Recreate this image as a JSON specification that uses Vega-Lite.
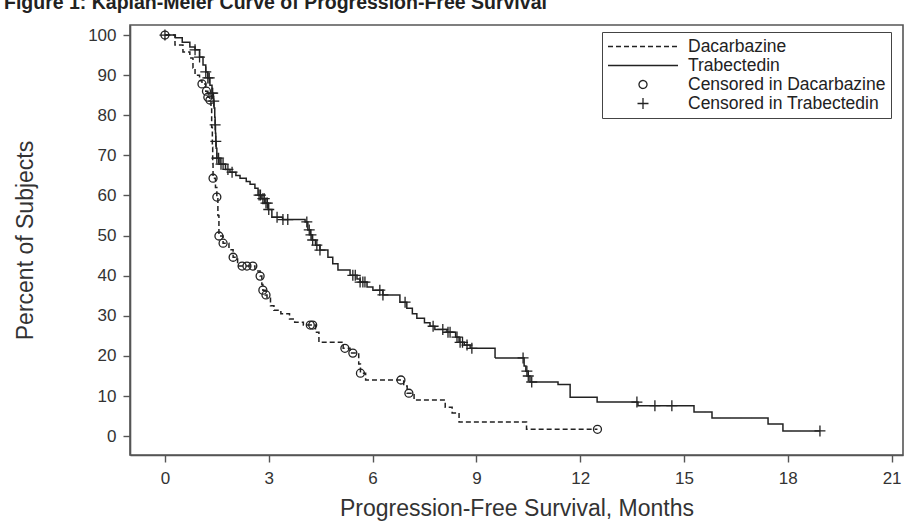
{
  "$schema": "https://vega.github.io/schema/vega-lite/v6.json",
  "width": 773,
  "height": 430,
  "autosize": "none",
  "padding": {"left": 130, "top": 25, "right": 9, "bottom": 68},
  "background": "white",
  "config": {
    "font": "Liberation Sans",
    "view": {"stroke": "#555", "strokeWidth": 1.6},
    "axis": {"grid": false, "domainColor": "#555", "domainWidth": 1.6, "tickColor": "#555", "tickWidth": 1.4, "tickSize": 7, "labelFont": "Liberation Sans", "labelFontSize": 17, "labelColor": "#333", "titleFont": "Liberation Sans", "titleFontSize": 23, "titleFontWeight": "normal", "titleColor": "#333"}
  },
  "title": {"text": "Figure 1: Kaplan-Meier Curve of Progression-Free Survival", "anchor": "start", "frame": "group", "dx": -126, "offset": 12, "fontSize": 19.5, "fontWeight": "bold", "font": "Liberation Sans", "color": "#222"},
  "datasets": {
    "curves": [
      {"series": "Dacarbazine", "t": 0, "s": 100},
      {"series": "Dacarbazine", "t": 0.29, "s": 97.5},
      {"series": "Dacarbazine", "t": 0.52, "s": 95.8},
      {"series": "Dacarbazine", "t": 0.72, "s": 94.3},
      {"series": "Dacarbazine", "t": 0.81, "s": 91.8},
      {"series": "Dacarbazine", "t": 0.87, "s": 90},
      {"series": "Dacarbazine", "t": 1.0, "s": 88.6},
      {"series": "Dacarbazine", "t": 1.07, "s": 87.8},
      {"series": "Dacarbazine", "t": 1.18, "s": 86},
      {"series": "Dacarbazine", "t": 1.24, "s": 84.5},
      {"series": "Dacarbazine", "t": 1.3, "s": 83.8},
      {"series": "Dacarbazine", "t": 1.33, "s": 81.8},
      {"series": "Dacarbazine", "t": 1.35, "s": 77},
      {"series": "Dacarbazine", "t": 1.37, "s": 72},
      {"series": "Dacarbazine", "t": 1.38, "s": 68},
      {"series": "Dacarbazine", "t": 1.39, "s": 64.3},
      {"series": "Dacarbazine", "t": 1.46, "s": 62},
      {"series": "Dacarbazine", "t": 1.5, "s": 59.6},
      {"series": "Dacarbazine", "t": 1.53, "s": 55},
      {"series": "Dacarbazine", "t": 1.56, "s": 49.9},
      {"series": "Dacarbazine", "t": 1.68, "s": 48.1},
      {"series": "Dacarbazine", "t": 1.85, "s": 46.5},
      {"series": "Dacarbazine", "t": 1.97, "s": 44.6},
      {"series": "Dacarbazine", "t": 2.1, "s": 42.4},
      {"series": "Dacarbazine", "t": 2.6, "s": 41.2},
      {"series": "Dacarbazine", "t": 2.75, "s": 39.9},
      {"series": "Dacarbazine", "t": 2.8, "s": 37.8},
      {"series": "Dacarbazine", "t": 2.83, "s": 36.4},
      {"series": "Dacarbazine", "t": 2.9, "s": 35.2},
      {"series": "Dacarbazine", "t": 2.95, "s": 34.4},
      {"series": "Dacarbazine", "t": 3.05, "s": 32.5},
      {"series": "Dacarbazine", "t": 3.15, "s": 31.4},
      {"series": "Dacarbazine", "t": 3.35, "s": 30.5},
      {"series": "Dacarbazine", "t": 3.6, "s": 29.2},
      {"series": "Dacarbazine", "t": 3.75, "s": 28.4},
      {"series": "Dacarbazine", "t": 4.0, "s": 27.7},
      {"series": "Dacarbazine", "t": 4.35, "s": 25.9},
      {"series": "Dacarbazine", "t": 4.45, "s": 23.4},
      {"series": "Dacarbazine", "t": 5.15, "s": 21.9},
      {"series": "Dacarbazine", "t": 5.35, "s": 20.7},
      {"series": "Dacarbazine", "t": 5.6, "s": 18},
      {"series": "Dacarbazine", "t": 5.65, "s": 15.7},
      {"series": "Dacarbazine", "t": 5.8, "s": 14.0},
      {"series": "Dacarbazine", "t": 6.9, "s": 12.5},
      {"series": "Dacarbazine", "t": 7.0, "s": 10.7},
      {"series": "Dacarbazine", "t": 7.2, "s": 9.0},
      {"series": "Dacarbazine", "t": 8.1, "s": 7.2},
      {"series": "Dacarbazine", "t": 8.3, "s": 5.8},
      {"series": "Dacarbazine", "t": 8.5, "s": 3.5},
      {"series": "Dacarbazine", "t": 10.45, "s": 1.7},
      {"series": "Dacarbazine", "t": 12.5, "s": 1.7},
      {"series": "Trabectedin", "t": 0, "s": 100},
      {"series": "Trabectedin", "t": 0.3, "s": 99.3},
      {"series": "Trabectedin", "t": 0.5, "s": 98.2},
      {"series": "Trabectedin", "t": 0.72, "s": 97},
      {"series": "Trabectedin", "t": 0.87, "s": 96.3},
      {"series": "Trabectedin", "t": 1.0, "s": 94.5},
      {"series": "Trabectedin", "t": 1.1, "s": 92.5},
      {"series": "Trabectedin", "t": 1.18, "s": 90.8},
      {"series": "Trabectedin", "t": 1.24, "s": 89.3},
      {"series": "Trabectedin", "t": 1.3, "s": 87.5},
      {"series": "Trabectedin", "t": 1.36, "s": 85.5},
      {"series": "Trabectedin", "t": 1.4, "s": 83.5},
      {"series": "Trabectedin", "t": 1.42, "s": 81.8},
      {"series": "Trabectedin", "t": 1.44, "s": 79.5},
      {"series": "Trabectedin", "t": 1.45, "s": 77.6},
      {"series": "Trabectedin", "t": 1.46, "s": 75.5},
      {"series": "Trabectedin", "t": 1.47, "s": 73.5},
      {"series": "Trabectedin", "t": 1.48, "s": 71.8},
      {"series": "Trabectedin", "t": 1.5, "s": 69.3},
      {"series": "Trabectedin", "t": 1.59, "s": 67.8},
      {"series": "Trabectedin", "t": 1.75, "s": 66.5},
      {"series": "Trabectedin", "t": 1.88, "s": 65.8},
      {"series": "Trabectedin", "t": 2.05, "s": 65},
      {"series": "Trabectedin", "t": 2.17, "s": 64.3},
      {"series": "Trabectedin", "t": 2.35, "s": 63.5},
      {"series": "Trabectedin", "t": 2.46, "s": 62.8},
      {"series": "Trabectedin", "t": 2.6, "s": 61.8},
      {"series": "Trabectedin", "t": 2.69, "s": 60.1},
      {"series": "Trabectedin", "t": 2.78, "s": 59.2},
      {"series": "Trabectedin", "t": 2.89, "s": 58.1},
      {"series": "Trabectedin", "t": 2.98, "s": 56.5},
      {"series": "Trabectedin", "t": 3.09, "s": 54.6},
      {"series": "Trabectedin", "t": 3.4, "s": 54.0},
      {"series": "Trabectedin", "t": 4.05, "s": 53.4},
      {"series": "Trabectedin", "t": 4.13, "s": 51.4},
      {"series": "Trabectedin", "t": 4.2, "s": 50.2},
      {"series": "Trabectedin", "t": 4.25, "s": 48.9},
      {"series": "Trabectedin", "t": 4.35, "s": 47.6},
      {"series": "Trabectedin", "t": 4.48, "s": 46.4},
      {"series": "Trabectedin", "t": 4.71, "s": 44.6},
      {"series": "Trabectedin", "t": 4.85, "s": 43},
      {"series": "Trabectedin", "t": 5.0, "s": 41.4},
      {"series": "Trabectedin", "t": 5.35, "s": 40.1},
      {"series": "Trabectedin", "t": 5.55, "s": 39.2},
      {"series": "Trabectedin", "t": 5.64, "s": 38.4},
      {"series": "Trabectedin", "t": 5.84, "s": 37.2},
      {"series": "Trabectedin", "t": 6.01, "s": 36.4},
      {"series": "Trabectedin", "t": 6.3, "s": 35.2},
      {"series": "Trabectedin", "t": 6.79, "s": 33.4},
      {"series": "Trabectedin", "t": 6.99, "s": 31.9},
      {"series": "Trabectedin", "t": 7.15, "s": 30.5},
      {"series": "Trabectedin", "t": 7.28, "s": 29.4},
      {"series": "Trabectedin", "t": 7.5, "s": 28.3},
      {"series": "Trabectedin", "t": 7.66, "s": 27.4},
      {"series": "Trabectedin", "t": 7.8, "s": 26.6},
      {"series": "Trabectedin", "t": 8.15, "s": 25.9},
      {"series": "Trabectedin", "t": 8.4, "s": 24.7},
      {"series": "Trabectedin", "t": 8.5, "s": 23.4},
      {"series": "Trabectedin", "t": 8.65, "s": 22.7},
      {"series": "Trabectedin", "t": 8.82, "s": 21.9},
      {"series": "Trabectedin", "t": 9.54, "s": 19.5},
      {"series": "Trabectedin", "t": 10.38, "s": 17.5},
      {"series": "Trabectedin", "t": 10.43, "s": 16.2},
      {"series": "Trabectedin", "t": 10.5, "s": 15},
      {"series": "Trabectedin", "t": 10.55, "s": 13.5},
      {"series": "Trabectedin", "t": 11.36, "s": 12.9},
      {"series": "Trabectedin", "t": 11.71, "s": 9.7},
      {"series": "Trabectedin", "t": 12.49, "s": 8.5},
      {"series": "Trabectedin", "t": 13.67, "s": 7.6},
      {"series": "Trabectedin", "t": 15.29, "s": 6.0},
      {"series": "Trabectedin", "t": 15.81, "s": 4.5},
      {"series": "Trabectedin", "t": 17.43, "s": 3.0},
      {"series": "Trabectedin", "t": 17.86, "s": 1.3},
      {"series": "Trabectedin", "t": 18.93, "s": 1.3}
    ],
    "censored": [
      {"series": "Censored in Dacarbazine", "t": 0, "s": 100},
      {"series": "Censored in Dacarbazine", "t": 1.07, "s": 87.8},
      {"series": "Censored in Dacarbazine", "t": 1.2, "s": 86},
      {"series": "Censored in Dacarbazine", "t": 1.24, "s": 84.5},
      {"series": "Censored in Dacarbazine", "t": 1.3, "s": 83.8},
      {"series": "Censored in Dacarbazine", "t": 1.39, "s": 64.3},
      {"series": "Censored in Dacarbazine", "t": 1.5, "s": 59.6},
      {"series": "Censored in Dacarbazine", "t": 1.56, "s": 49.9},
      {"series": "Censored in Dacarbazine", "t": 1.68, "s": 48.1},
      {"series": "Censored in Dacarbazine", "t": 1.97, "s": 44.6},
      {"series": "Censored in Dacarbazine", "t": 2.23, "s": 42.4},
      {"series": "Censored in Dacarbazine", "t": 2.37, "s": 42.4},
      {"series": "Censored in Dacarbazine", "t": 2.54, "s": 42.4},
      {"series": "Censored in Dacarbazine", "t": 2.75, "s": 39.9},
      {"series": "Censored in Dacarbazine", "t": 2.83, "s": 36.4},
      {"series": "Censored in Dacarbazine", "t": 2.92, "s": 35.2},
      {"series": "Censored in Dacarbazine", "t": 4.2, "s": 27.7},
      {"series": "Censored in Dacarbazine", "t": 4.27, "s": 27.7},
      {"series": "Censored in Dacarbazine", "t": 5.2, "s": 21.9},
      {"series": "Censored in Dacarbazine", "t": 5.43, "s": 20.7},
      {"series": "Censored in Dacarbazine", "t": 5.65, "s": 15.7},
      {"series": "Censored in Dacarbazine", "t": 6.82, "s": 14.0},
      {"series": "Censored in Dacarbazine", "t": 7.05, "s": 10.7},
      {"series": "Censored in Dacarbazine", "t": 12.5, "s": 1.7},
      {"series": "Censored in Trabectedin", "t": 0, "s": 100},
      {"series": "Censored in Trabectedin", "t": 0.87, "s": 96.3},
      {"series": "Censored in Trabectedin", "t": 1.0, "s": 94.5},
      {"series": "Censored in Trabectedin", "t": 1.18, "s": 90.8},
      {"series": "Censored in Trabectedin", "t": 1.24, "s": 89.3},
      {"series": "Censored in Trabectedin", "t": 1.28, "s": 89.3},
      {"series": "Censored in Trabectedin", "t": 1.36, "s": 85.5},
      {"series": "Censored in Trabectedin", "t": 1.38, "s": 85.5},
      {"series": "Censored in Trabectedin", "t": 1.41, "s": 83.5},
      {"series": "Censored in Trabectedin", "t": 1.45, "s": 77.6},
      {"series": "Censored in Trabectedin", "t": 1.47, "s": 73.5},
      {"series": "Censored in Trabectedin", "t": 1.5, "s": 69.3},
      {"series": "Censored in Trabectedin", "t": 1.55, "s": 69.3},
      {"series": "Censored in Trabectedin", "t": 1.62, "s": 67.8},
      {"series": "Censored in Trabectedin", "t": 1.68, "s": 67.8},
      {"series": "Censored in Trabectedin", "t": 1.82, "s": 66.5},
      {"series": "Censored in Trabectedin", "t": 1.94, "s": 65.8},
      {"series": "Censored in Trabectedin", "t": 2.72, "s": 60.1},
      {"series": "Censored in Trabectedin", "t": 2.76, "s": 60.1},
      {"series": "Censored in Trabectedin", "t": 2.83, "s": 59.2},
      {"series": "Censored in Trabectedin", "t": 2.87, "s": 59.2},
      {"series": "Censored in Trabectedin", "t": 2.92, "s": 58.1},
      {"series": "Censored in Trabectedin", "t": 2.96, "s": 58.1},
      {"series": "Censored in Trabectedin", "t": 3.0, "s": 56.5},
      {"series": "Censored in Trabectedin", "t": 3.24, "s": 54.6},
      {"series": "Censored in Trabectedin", "t": 3.41, "s": 54.0},
      {"series": "Censored in Trabectedin", "t": 3.55, "s": 54.0},
      {"series": "Censored in Trabectedin", "t": 4.1, "s": 53.4},
      {"series": "Censored in Trabectedin", "t": 4.17, "s": 51.4},
      {"series": "Censored in Trabectedin", "t": 4.22, "s": 50.2},
      {"series": "Censored in Trabectedin", "t": 4.27, "s": 48.9},
      {"series": "Censored in Trabectedin", "t": 4.39, "s": 47.6},
      {"series": "Censored in Trabectedin", "t": 4.48, "s": 46.4},
      {"series": "Censored in Trabectedin", "t": 5.43, "s": 40.1},
      {"series": "Censored in Trabectedin", "t": 5.5, "s": 40.1},
      {"series": "Censored in Trabectedin", "t": 5.64, "s": 38.4},
      {"series": "Censored in Trabectedin", "t": 5.72, "s": 38.4},
      {"series": "Censored in Trabectedin", "t": 5.78, "s": 38.4},
      {"series": "Censored in Trabectedin", "t": 6.21, "s": 36.4},
      {"series": "Censored in Trabectedin", "t": 6.3, "s": 35.2},
      {"series": "Censored in Trabectedin", "t": 6.94, "s": 33.4},
      {"series": "Censored in Trabectedin", "t": 7.75, "s": 27.4},
      {"series": "Censored in Trabectedin", "t": 8.03, "s": 26.6},
      {"series": "Censored in Trabectedin", "t": 8.18, "s": 25.9},
      {"series": "Censored in Trabectedin", "t": 8.24, "s": 25.9},
      {"series": "Censored in Trabectedin", "t": 8.44, "s": 24.7},
      {"series": "Censored in Trabectedin", "t": 8.53, "s": 23.4},
      {"series": "Censored in Trabectedin", "t": 8.6, "s": 23.4},
      {"series": "Censored in Trabectedin", "t": 8.73, "s": 22.7},
      {"series": "Censored in Trabectedin", "t": 8.87, "s": 21.9},
      {"series": "Censored in Trabectedin", "t": 10.35, "s": 19.5},
      {"series": "Censored in Trabectedin", "t": 10.46, "s": 16.2},
      {"series": "Censored in Trabectedin", "t": 10.5, "s": 15},
      {"series": "Censored in Trabectedin", "t": 10.6, "s": 13.5},
      {"series": "Censored in Trabectedin", "t": 13.64, "s": 8.5},
      {"series": "Censored in Trabectedin", "t": 14.16, "s": 7.6},
      {"series": "Censored in Trabectedin", "t": 14.65, "s": 7.6},
      {"series": "Censored in Trabectedin", "t": 18.93, "s": 1.3}
    ]
  },
  "encoding": {
    "x": {"field": "t", "type": "quantitative", "scale": {"domain": [-1.01, 21.33], "nice": false, "zero": false},
      "axis": {"values": [0, 3, 6, 9, 12, 15, 18, 21], "title": "Progression-Free Survival, Months", "labelPadding": 8, "titlePadding": 11}},
    "y": {"field": "s", "type": "quantitative", "scale": {"domain": [-4.7, 102.5], "nice": false, "zero": false},
      "axis": {"values": [0, 10, 20, 30, 40, 50, 60, 70, 80, 90, 100], "title": "Percent of Subjects", "labelPadding": 7, "titleX": -105, "titleBaseline": "middle"}}
  },
  "layer": [
    {
      "data": {"name": "curves"},
      "mark": {"type": "line", "interpolate": "step-after", "strokeWidth": 1.5, "color": "#222"},
      "encoding": {
        "strokeDash": {"field": "series", "type": "nominal",
          "scale": {"domain": ["Dacarbazine", "Trabectedin", "Censored in Dacarbazine", "Censored in Trabectedin"], "range": [[5, 3], [1, 0], [1, 0], [1, 0]]},
          "legend": {"title": null, "orient": "none", "legendX": 472, "legendY": 7, "padding": 5, "rowPadding": 0, "clipHeight": 19, "strokeColor": "#444", "fillColor": "white", "labelFont": "Liberation Sans", "labelFontSize": 17.5, "labelColor": "#222", "labelLimit": 300, "labelOffset": 9, "symbolSize": 4900, "symbolStrokeColor": "#222", "symbolFillColor": "transparent", "symbolStrokeWidth": 1.3}
        }
      }
    },
    {
      "data": {"name": "censored"},
      "mark": {"type": "point", "filled": false, "size": 4900, "strokeWidth": 1.3, "color": "#222", "opacity": 1},
      "encoding": {
        "shape": {"field": "series", "type": "nominal",
          "scale": {"domain": ["Dacarbazine", "Trabectedin", "Censored in Dacarbazine", "Censored in Trabectedin"], "range": ["M-1,0H1", "M-1,0H1", "M-0.114,0A0.114,0.114,0,1,1,0.114,0A0.114,0.114,0,1,1,-0.114,0", "M-0.157,0H0.157M0,-0.157V0.157"]},
          "legend": {"title": null, "orient": "none", "legendX": 472, "legendY": 7, "padding": 5, "rowPadding": 0, "clipHeight": 19, "strokeColor": "#444", "fillColor": "white", "labelFont": "Liberation Sans", "labelFontSize": 17.5, "labelColor": "#222", "labelLimit": 300, "labelOffset": 9, "symbolSize": 4900, "symbolStrokeColor": "#222", "symbolFillColor": "transparent", "symbolStrokeWidth": 1.3}
        }
      }
    }
  ]
}
